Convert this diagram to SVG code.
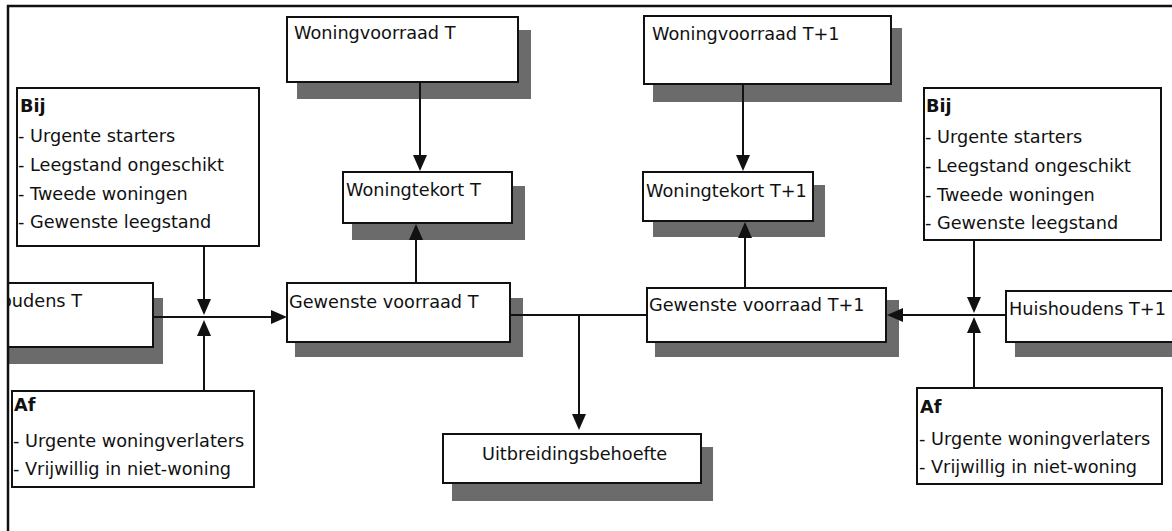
<svg xmlns="http://www.w3.org/2000/svg" width="1172" height="531" viewBox="0 0 1172 531">
<style>
  .box { fill: #ffffff; stroke: #111111; stroke-width: 2; }
  .shadow { fill: #6b6b6b; stroke: none; }
  .t { font-family: "DejaVu Sans", "Liberation Sans", sans-serif; font-size: 17.7px; fill: #111111; }
  .b { font-weight: bold; }
  .conn { stroke: #111111; stroke-width: 2; fill: none; }
  .frame { stroke: #111111; stroke-width: 2.5; fill: none; }
</style>
<defs>
  <marker id="arrow" viewBox="0 0 16 14" refX="10" refY="7" markerWidth="16" markerHeight="14" markerUnits="userSpaceOnUse" orient="auto">
    <path d="M0,0 L16,7 L0,14 z" fill="#111111"/>
  </marker>
  <clipPath id="leftclip">
    <rect x="8" y="0" width="1164" height="531"/>
  </clipPath>
</defs>
<rect width="1172" height="531" fill="#ffffff"/>

<g id="woningvoorraad-t">
  <rect class="shadow" x="297" y="30" width="234" height="69"/>
  <rect class="box" x="287" y="17" width="231" height="65"/>
  <text class="t" x="294" y="39">Woningvoorraad T</text>
</g>
<g id="woningtekort-t">
  <rect class="shadow" x="352" y="186" width="173" height="54"/>
  <rect class="box" x="343" y="172" width="169" height="51"/>
  <text class="t" x="346" y="196">Woningtekort T</text>
</g>
<g id="woningvoorraad-t1">
  <rect class="shadow" x="653" y="28" width="249" height="74"/>
  <rect class="box" x="644" y="16" width="247" height="68"/>
  <text class="t" x="652" y="40">Woningvoorraad T+1</text>
</g>
<g id="woningtekort-t1">
  <rect class="shadow" x="653" y="185" width="172" height="52"/>
  <rect class="box" x="643" y="172" width="170" height="49"/>
  <text class="t" x="646" y="197">Woningtekort T+1</text>
</g>
<g id="gewenste-voorraad-t">
  <rect class="shadow" x="295" y="298" width="228" height="59"/>
  <rect class="box" x="287" y="283" width="223" height="59"/>
  <text class="t" x="289" y="308">Gewenste voorraad T</text>
</g>
<g id="gewenste-voorraad-t1">
  <rect class="shadow" x="655" y="300" width="244" height="57"/>
  <rect class="box" x="647" y="288" width="239" height="54"/>
  <text class="t" x="649" y="311">Gewenste voorraad T+1</text>
</g>
<g id="huishoudens-t" clip-path="url(#leftclip)">
  <rect class="shadow" x="-50" y="298" width="213" height="66"/>
  <rect class="box" x="-60" y="283" width="213" height="64"/>
  <text class="t" x="82" y="307" text-anchor="end">Huishoudens T</text>
</g>
<g id="huishoudens-t1">
  <rect class="shadow" x="1015" y="304" width="170" height="53"/>
  <rect class="box" x="1006" y="291" width="180" height="51"/>
  <text class="t" x="1009" y="315">Huishoudens T+1</text>
</g>
<g id="uitbreidingsbehoefte">
  <rect class="shadow" x="452" y="447" width="261" height="54"/>
  <rect class="box" x="443" y="434" width="258" height="49"/>
  <text class="t" x="482" y="460">Uitbreidingsbehoefte</text>
</g>
<g id="bij-links">
  <rect class="box" x="17" y="88" width="242" height="158"/>
  <text class="t b" x="20" y="112">Bij</text>
  <text class="t" x="18" y="142">- Urgente starters</text>
  <text class="t" x="18" y="171">- Leegstand ongeschikt</text>
  <text class="t" x="18" y="200">- Tweede woningen</text>
  <text class="t" x="18" y="228">- Gewenste leegstand</text>
</g>
<g id="bij-rechts">
  <rect class="box" x="924" y="88" width="237" height="152"/>
  <text class="t b" x="926" y="112">Bij</text>
  <text class="t" x="925" y="143">- Urgente starters</text>
  <text class="t" x="925" y="172">- Leegstand ongeschikt</text>
  <text class="t" x="925" y="201">- Tweede woningen</text>
  <text class="t" x="925" y="229">- Gewenste leegstand</text>
</g>
<g id="af-links">
  <rect class="box" x="12" y="391" width="242" height="96"/>
  <text class="t b" x="14" y="411">Af</text>
  <text class="t" x="13" y="447">- Urgente woningverlaters</text>
  <text class="t" x="13" y="475">- Vrijwillig in niet-woning</text>
</g>
<g id="af-rechts">
  <rect class="box" x="917" y="388" width="245" height="96"/>
  <text class="t b" x="920" y="413">Af</text>
  <text class="t" x="919" y="445">- Urgente woningverlaters</text>
  <text class="t" x="919" y="473">- Vrijwillig in niet-woning</text>
</g>

<g id="connectors">
  <line class="conn" x1="420" y1="82" x2="420" y2="165" marker-end="url(#arrow)"/>
  <line class="conn" x1="416" y1="283" x2="416" y2="230" marker-end="url(#arrow)"/>
  <line class="conn" x1="743" y1="84" x2="743" y2="165" marker-end="url(#arrow)"/>
  <line class="conn" x1="745" y1="288" x2="745" y2="228" marker-end="url(#arrow)"/>
  <line class="conn" x1="153" y1="317" x2="281" y2="317" marker-end="url(#arrow)"/>
  <line class="conn" x1="204" y1="246" x2="204" y2="309" marker-end="url(#arrow)"/>
  <line class="conn" x1="204" y1="391" x2="204" y2="326" marker-end="url(#arrow)"/>
  <line class="conn" x1="510" y1="315" x2="647" y2="315"/>
  <line class="conn" x1="579" y1="315" x2="579" y2="424" marker-end="url(#arrow)"/>
  <line class="conn" x1="1006" y1="315" x2="893" y2="315" marker-end="url(#arrow)"/>
  <line class="conn" x1="974" y1="240" x2="974" y2="307" marker-end="url(#arrow)"/>
  <line class="conn" x1="974" y1="388" x2="974" y2="323" marker-end="url(#arrow)"/>
</g>

<path class="frame" d="M8,531 L8,6 L1172,6"/>
</svg>
